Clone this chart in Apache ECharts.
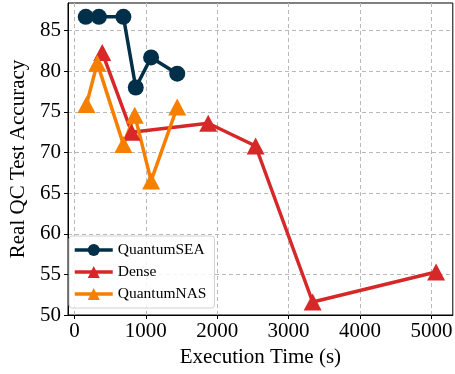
<!DOCTYPE html>
<html>
<head>
<meta charset="utf-8">
<script src="https://cdn.jsdelivr.net/npm/echarts@6/dist/echarts.min.js"></script>
<style>
  html, body { margin: 0; padding: 0; background: #fff; }
  #chart { width: 455px; height: 374px; }
</style>
</head>
<body>
<div id="chart"></div>
<script>
// data
const seaTime = [159, 343, 686, 859, 1074, 1440];
const seaAcc = [86.7, 86.7, 86.7, 78.0, 81.7, 79.7];
const denseTime = [390, 801, 1874, 2538, 3337, 5066];
const denseAcc = [82.3, 72.5, 73.6, 70.8, 51.6, 55.3];
const nasTime = [169, 320, 686, 845, 1074, 1440];
const nasAcc = [75.9, 81.0, 71.0, 74.6, 66.5, 75.6];
const xTicks = [0, 1000, 2000, 3000, 4000, 5000];
const yTicks = [50, 55, 60, 65, 70, 75, 80, 85];

const font = "Liberation Serif";
const pair = (xs, ys) => xs.map((x, i) => [x, ys[i]]);

const lineSeries = (name, data, color, symbol, size) => ({
  name,
  type: "line",
  data,
  symbol,
  symbolSize: size,
  color,
  lineStyle: { width: 3.5, color },
  itemStyle: { color },
  animation: false,
});

const gridLine = { show: true, lineStyle: { type: [4, 3], color: "#b8b8b8", width: 1 } };

const chart = echarts.init(document.getElementById("chart"));
chart.setOption({
  animation: false,
  grid: {
    left: 61,
    right: 2,
    top: 3,
    bottom: 59,
    show: true,
    borderColor: "#000",
    borderWidth: 1,
  },
  xAxis: {
    type: "value",
    min: -90,
    max: 5300,
    name: "Execution Time (s)",
    nameLocation: "middle",
    nameGap: 31,
    nameTextStyle: { fontFamily: font, fontSize: 21, color: "#000" },
    axisLine: { show: true, onZero: false, lineStyle: { color: "#000" } },
    axisTick: { show: true, length: 4, customValues: xTicks, lineStyle: { color: "#000" } },
    axisLabel: {
      customValues: xTicks,
      formatter: (v) => String(v),
      fontFamily: font,
      fontSize: 21,
      color: "#000",
      margin: 6,
    },
    splitLine: gridLine,
  },
  yAxis: {
    type: "value",
    min: 50,
    max: 88.4,
    name: "Real QC Test Accuracy",
    nameLocation: "middle",
    nameGap: 39,
    nameTextStyle: { fontFamily: font, fontSize: 21, color: "#000" },
    axisLine: { show: true, onZero: false, lineStyle: { color: "#000" } },
    axisTick: { show: true, length: 4, customValues: yTicks, lineStyle: { color: "#000" } },
    axisLabel: {
      customValues: yTicks,
      formatter: (v) => String(v),
      fontFamily: font,
      fontSize: 21,
      color: "#000",
      margin: 7,
    },
    splitLine: gridLine,
  },
  legend: {
    orient: "vertical",
    left: 69,
    top: 236,
    padding: [6, 8, 6, 4],
    itemWidth: 38,
    itemHeight: 15,
    itemGap: 6,
    lineStyle: { width: 3.5 },
    backgroundColor: "rgba(255,255,255,0.85)",
    borderColor: "#d0d0d0",
    borderWidth: 1,
    borderRadius: 3,
    textStyle: { fontFamily: font, fontSize: 15.5, color: "#000" },
    data: ["QuantumSEA", "Dense", "QuantumNAS"],
  },
  series: [
    lineSeries("QuantumSEA", pair(seaTime, seaAcc), "#003049", "circle", 16),
    lineSeries("Dense", pair(denseTime, denseAcc), "#d62828", "triangle", [18, 17]),
    lineSeries("QuantumNAS", pair(nasTime, nasAcc), "#f77f00", "triangle", [18, 17]),
  ],
});
</script>
</body>
</html>
